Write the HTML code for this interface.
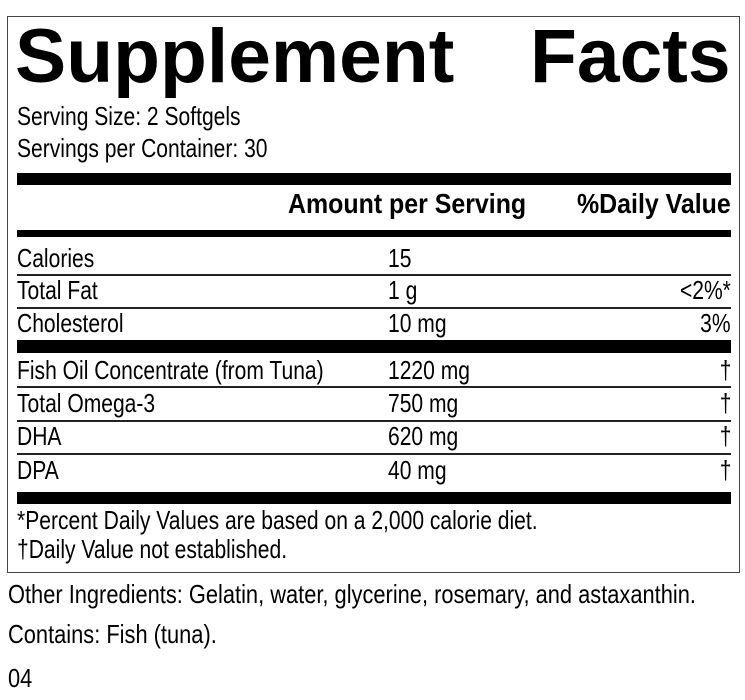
<!DOCTYPE html>
<html><head><style>
body{margin:0;width:745px;height:700px;background:#fff;position:relative;overflow:hidden;font-family:"Liberation Sans",sans-serif;color:#000}
.t{position:absolute;white-space:nowrap;font-size:26px;line-height:26px;transform:scaleX(0.81) translateY(-2px);transform-origin:left center}
.r{transform-origin:right center;text-align:right}
.b{font-weight:bold}
.bar{position:absolute;left:17px;width:714px;background:#000}
.ln{position:absolute;left:17px;width:714px;height:2px;background:#222}
</style></head><body>
<div style="position:absolute;left:7px;top:16px;width:731px;height:555px;border:1px solid #444"></div>
<div class="t b" style="left:15px;top:19px;font-size:76px;line-height:76px;transform:scaleX(1.01)">Supplement</div>
<div class="t b r" style="right:14px;top:19px;font-size:76px;line-height:76px;transform:scaleX(1.01)">Facts</div>
<div class="t" style="left:17px;top:105px">Serving Size: 2 Softgels</div>
<div class="t" style="left:17px;top:137px">Servings per Container: 30</div>
<div class="bar" style="top:173px;height:12px"></div>
<div class="t b" style="left:288px;top:191px;font-size:28px;transform:scaleX(0.89)">Amount per Serving</div>
<div class="t b r" style="right:14px;top:191px;font-size:28px;transform:scaleX(0.89)">%Daily Value</div>
<div class="bar" style="top:230px;height:7px"></div>
<div class="t" style="left:17px;top:247px">Calories</div><div class="t" style="left:388px;top:247px">15</div>
<div class="ln" style="top:274px"></div>
<div class="t" style="left:17px;top:279px">Total Fat</div><div class="t" style="left:388px;top:279px">1 g</div><div class="t r" style="right:14px;top:279px">&lt;2%*</div>
<div class="ln" style="top:307px"></div>
<div class="t" style="left:17px;top:312px">Cholesterol</div><div class="t" style="left:388px;top:312px">10 mg</div><div class="t r" style="right:14px;top:312px">3%</div>
<div class="bar" style="top:340px;height:13px"></div>
<div class="t" style="left:17px;top:359px">Fish Oil Concentrate (from Tuna)</div><div class="t" style="left:388px;top:359px">1220 mg</div><div class="t r" style="right:14px;top:359px">†</div>
<div class="ln" style="top:386px"></div>
<div class="t" style="left:17px;top:392px">Total Omega-3</div><div class="t" style="left:388px;top:392px">750 mg</div><div class="t r" style="right:14px;top:392px">†</div>
<div class="ln" style="top:420px"></div>
<div class="t" style="left:17px;top:425px">DHA</div><div class="t" style="left:388px;top:425px">620 mg</div><div class="t r" style="right:14px;top:425px">†</div>
<div class="ln" style="top:453px"></div>
<div class="t" style="left:17px;top:459px">DPA</div><div class="t" style="left:388px;top:459px">40 mg</div><div class="t r" style="right:14px;top:459px">†</div>
<div class="bar" style="top:492px;height:12px"></div>
<div class="t" style="left:17px;top:509px">*Percent Daily Values are based on a 2,000 calorie diet.</div>
<div class="t" style="left:17px;top:538px">†Daily Value not established.</div>
<div class="t" style="left:8px;top:583px;transform:scaleX(0.84) translateY(-2px)">Other Ingredients: Gelatin, water, glycerine, rosemary, and astaxanthin.</div>
<div class="t" style="left:8px;top:623px;transform:scaleX(0.84) translateY(-2px)">Contains: Fish (tuna).</div>
<div class="t" style="left:8px;top:667px;transform:scaleX(0.84) translateY(-2px)">04</div>
</body></html>
